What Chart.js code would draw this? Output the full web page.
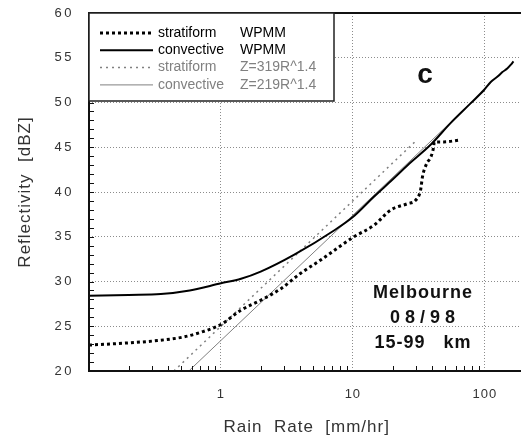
<!DOCTYPE html>
<html lang="en">
<head>
<meta charset="UTF-8">
<title>Reflectivity vs Rain Rate - Melbourne 08/98</title>
<script src="https://cdn.jsdelivr.net/npm/chart.js"></script>
<style>
  html, body { margin: 0; padding: 0; background: #fff; overflow: hidden; }
  #wrap { width: 530px; height: 441px; }
</style>
</head>
<body>
<div id="wrap"><canvas id="zrChart" width="530" height="441"></canvas></div>
<script>
// values (rain rate in mm/hr, reflectivity in dBZ)
const stratRain = [0.1, 0.18, 0.33, 0.52, 0.73, 1.0, 1.42, 2.0, 2.85, 4.0, 5.7, 8.1, 10.2, 14.5, 19.4, 26, 30, 32.6, 33.7, 36.3, 39, 40.9, 41.4, 49, 64];
const stratDbz  = [22.9, 23.1, 23.4, 23.8, 24.4, 25.2, 26.8, 27.9, 29.2, 30.9, 32.4, 34.0, 35.0, 36.3, 38.0, 38.7, 39.1, 40.2, 41.7, 43.2, 43.9, 45.0, 45.6, 45.6, 45.8];

const convRain = [0.1, 0.2, 0.35, 0.58, 1.0, 1.42, 2.0, 3.6, 7.2, 10, 14.5, 20, 26, 39, 55, 78, 98.6, 111, 125, 136, 148, 157, 165];
const convDbz  = [28.4, 28.5, 28.6, 29.0, 29.8, 30.3, 31.1, 33.0, 35.7, 37.2, 39.5, 41.4, 43.0, 45.3, 47.7, 49.9, 51.4, 52.3, 52.9, 53.4, 53.8, 54.2, 54.6];

const stratZrRain = [0.44, 30];
const stratZrDbz  = [20, 45.7];
const convZrRain  = [0.58, 100];
const convZrDbz   = [20.1, 51.4];

const seriesTypes   = ['stratiform', 'convective', 'stratiform', 'convective'];
const seriesMethods = ['WPMM', 'WPMM', 'Z=319R^1.4', 'Z=219R^1.4'];

const xTickValues = [1, 10, 100];
const xTickLabels = ['1', '10', '100'];

const tickFont = { family: '"Liberation Sans", Arial, sans-serif', size: 13 };
const titleFont = { family: '"Liberation Sans", Arial, sans-serif', size: 17 };

function toPoints(xs, ys) {
    return xs.map((x, i) => ({ x: x, y: ys[i] }));
}

// letter spacing for axis text (the scan is widely spaced)
function spaced(scale, method, spacing) {
    const orig = scale[method];
    if (orig._spaced) return;
    const wrapped = function (area) {
        const ctx = scale.ctx;
        ctx.save();
        ctx.letterSpacing = spacing;
        orig.call(scale, area);
        ctx.restore();
    };
    wrapped._spaced = true;
    scale[method] = wrapped;
}

const axisSpacing = {
    id: 'axisSpacing',
    afterLayout(chart) {
        spaced(chart.scales.y, 'drawLabels', '2.5px');
        spaced(chart.scales.x, 'drawLabels', '1px');
        spaced(chart.scales.y, 'drawTitle', '1px');
        spaced(chart.scales.x, 'drawTitle', '1px');
    }
};

// frame and inside minor ticks
const frame = {
    id: 'frame',
    afterDatasetsDraw(chart) {
        const { ctx, chartArea: a, scales: { x, y } } = chart;
        ctx.save();
        ctx.strokeStyle = '#111';
        ctx.lineWidth = 1;
        ctx.beginPath();
        for (let v = 21; v < 60; v++) {
            const py = Math.round(y.getPixelForValue(v)) + 0.5;
            ctx.moveTo(a.left, py);
            ctx.lineTo(a.left + 5, py);
        }
        [0.1, 1, 10, 100].forEach(d => {
            for (let m = 2; m <= 9; m++) {
                const v = m * d;
                if (v >= 200) continue;
                const px = Math.round(x.getPixelForValue(v)) + 0.5;
                ctx.moveTo(px, a.bottom);
                ctx.lineTo(px, a.bottom - 5);
            }
        });
        ctx.stroke();
        ctx.lineWidth = 2;
        ctx.strokeRect(a.left, a.top, a.right - a.left, a.bottom - a.top);
        ctx.restore();
    }
};

// legend box in the top left corner of the plot
const legendBox = {
    id: 'legendBox',
    afterDraw(chart) {
        const { ctx, chartArea: a } = chart;
        ctx.save();
        ctx.fillStyle = '#fff';
        ctx.fillRect(a.left, a.top, 245, 88);
        ctx.strokeStyle = '#222';
        ctx.lineWidth = 1.5;
        ctx.strokeRect(a.left, a.top, 245, 88);
        ctx.font = '14px "Liberation Sans", Arial, sans-serif';
        ctx.textBaseline = 'middle';
        chart.data.datasets.forEach((ds, i) => {
            const rowY = a.top + 20 + i * 17.3;
            ctx.beginPath();
            ctx.setLineDash(ds.borderDash || []);
            ctx.lineWidth = ds.borderWidth;
            ctx.strokeStyle = ds.borderColor;
            ctx.moveTo(a.left + 11, rowY);
            ctx.lineTo(a.left + 64, rowY);
            ctx.stroke();
            ctx.setLineDash([]);
            ctx.fillStyle = ds.borderColor;
            ctx.fillText(seriesTypes[i], a.left + 69, rowY);
            ctx.fillText(seriesMethods[i], a.left + 151, rowY);
        });
        ctx.restore();
    }
};

// panel letter and site text
const notes = {
    id: 'notes',
    afterDraw(chart) {
        const ctx = chart.ctx;
        ctx.save();
        ctx.fillStyle = '#111';
        ctx.textAlign = 'center';
        ctx.textBaseline = 'middle';
        ctx.font = 'bold 28px "Liberation Sans", Arial, sans-serif';
        ctx.fillText('c', 425, 75);
        ctx.font = 'bold 18px "Liberation Sans", Arial, sans-serif';
        ctx.letterSpacing = '1px';
        ctx.fillText('Melbourne', 423, 293);
        ctx.letterSpacing = '5px';
        ctx.fillText('08/98', 425, 318);
        ctx.letterSpacing = '1px';
        ctx.fillText('15-99   km', 423, 343);
        ctx.restore();
    }
};

const ctx = document.getElementById('zrChart').getContext('2d');

new Chart(ctx, {
    type: 'scatter',
    data: {
        datasets: [
            {
                label: 'stratiform WPMM',
                data: toPoints(stratRain, stratDbz),
                showLine: true,
                borderColor: '#000',
                borderWidth: 3,
                borderDash: [3, 3],
                pointRadius: 0,
                cubicInterpolationMode: 'monotone'
            },
            {
                label: 'convective WPMM',
                data: toPoints(convRain, convDbz),
                showLine: true,
                borderColor: '#000',
                borderWidth: 2,
                pointRadius: 0,
                cubicInterpolationMode: 'monotone'
            },
            {
                label: 'stratiform Z=319R^1.4',
                data: toPoints(stratZrRain, stratZrDbz),
                showLine: true,
                borderColor: '#808080',
                borderWidth: 1.5,
                borderDash: [2, 4],
                pointRadius: 0
            },
            {
                label: 'convective Z=219R^1.4',
                data: toPoints(convZrRain, convZrDbz),
                showLine: true,
                borderColor: '#808080',
                borderWidth: 1,
                pointRadius: 0
            }
        ]
    },
    options: {
        responsive: false,
        animation: false,
        layout: { padding: { left: 0, top: 13, right: 5.5, bottom: 0 } },
        plugins: {
            legend: { display: false },
            tooltip: { enabled: false }
        },
        scales: {
            x: {
                type: 'logarithmic',
                min: 0.1,
                max: 200,
                afterBuildTicks: s => { s.ticks = xTickValues.map(v => ({ value: v })); },
                afterFit: s => { s.height = 70; s.paddingLeft = 0; s.paddingRight = 0; },
                ticks: {
                    callback: (v, i) => xTickLabels[i],
                    font: tickFont,
                    color: '#333',
                    padding: 16,
                    maxRotation: 0,
                    autoSkip: false
                },
                grid: { color: '#8c8c8c', lineWidth: 1, drawTicks: false },
                border: { display: false, dash: [1, 2] },
                title: {
                    display: true,
                    text: 'Rain  Rate  [mm/hr]',
                    font: titleFont,
                    color: '#333',
                    padding: { top: 0, bottom: 3 }
                }
            },
            y: {
                min: 20,
                max: 60,
                afterFit: s => { s.width = 89; s.paddingTop = 0; s.paddingBottom = 0; },
                ticks: {
                    stepSize: 5,
                    font: tickFont,
                    color: '#333',
                    padding: 15
                },
                grid: { color: '#8c8c8c', lineWidth: 1, drawTicks: false },
                border: { display: false, dash: [1, 2] },
                title: {
                    display: true,
                    text: 'Reflectivity  [dBZ]',
                    font: titleFont,
                    color: '#333',
                    padding: { top: 15, bottom: 0 }
                }
            }
        }
    },
    plugins: [axisSpacing, frame, legendBox, notes]
});
</script>
</body>
</html>
